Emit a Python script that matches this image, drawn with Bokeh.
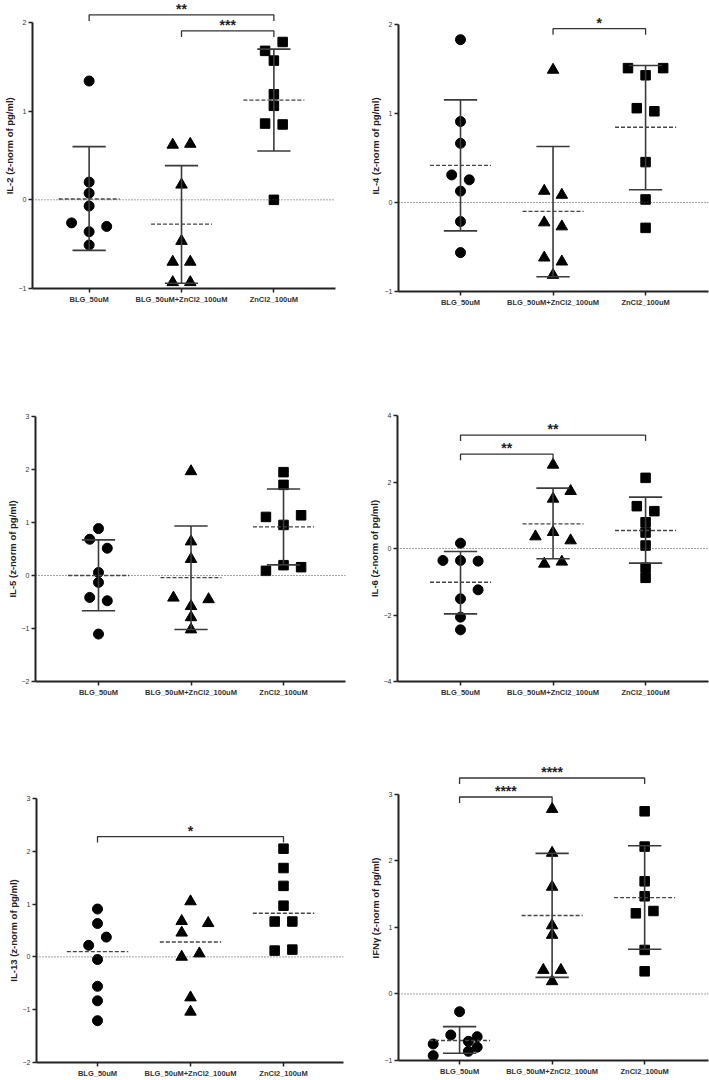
from bokeh.plotting import figure
from bokeh.layouts import column, row
from bokeh.models import Range1d, FixedTicker, Span
from bokeh.core.properties import value
from bokeh.embed import file_html
from bokeh.resources import INLINE

GROUPS = ["BLG_50uM", "BLG_50uM+ZnCl2_100uM", "ZnCl2_100uM"]
MARKERS = ["circle", "triangle", "square"]

# ---------------- IL-2 ----------------
IL2_BLG = [1.34, 0.20, 0.075, -0.07, -0.26, -0.30, -0.36, -0.51]
IL2_MIX = [0.62, 0.63, 0.17, -0.465, -0.70, -0.70, -0.93, -0.93]
IL2_ZN = [1.68, 1.78, 1.57, 1.19, 1.06, 0.86, 0.85, 0.0]
IL2_MEAN = [0.01, -0.274, 1.125]
IL2_LO = [-0.57, -0.94, 0.55]
IL2_HI = [0.60, 0.386, 1.70]
IL2_SIG = [(0, 2, 2.085, "**"), (1, 2, 1.905, "***")]

# ---------------- IL-4 ----------------
IL4_BLG = [1.83, 0.91, 0.665, 0.31, 0.255, 0.128, -0.214, -0.563]
IL4_MIX = [1.49, 0.13, 0.085, -0.225, -0.27, -0.62, -0.665, -0.815]
IL4_ZN = [1.51, 1.51, 1.43, 1.06, 1.025, 0.454, 0.034, -0.285]
IL4_MEAN = [0.417, -0.10, 0.845]
IL4_LO = [-0.319, -0.834, 0.143]
IL4_HI = [1.153, 0.63, 1.54]
IL4_SIG = [(1, 2, 1.953, "*")]

# ---------------- IL-5 ----------------
IL5_BLG = [0.885, 0.684, 0.515, 0.057, -0.13, -0.414, -0.477, -1.105]
IL5_MIX = [1.965, 0.64, 0.31, -0.42, -0.45, -0.58, -0.79, -1.02]
IL5_ZN = [1.95, 1.71, 1.105, 1.136, 0.954, 0.195, 0.157, 0.088]
IL5_MEAN = [0.0, -0.04, 0.917]
IL5_LO = [-0.665, -1.02, 0.20]
IL5_HI = [0.672, 0.935, 1.632]
IL5_SIG = []

# ---------------- IL-6 ----------------
IL6_BLG = [0.16, -0.36, -0.36, -0.38, -1.243, -1.514, -2.065, -2.446]
IL6_MIX = [2.516, 1.724, 1.494, 0.36, 0.49, 0.24, -0.461, -0.40]
IL6_ZN = [2.125, 1.273, 1.123, 0.79, 0.48, 0.09, -0.58, -0.882]
IL6_MEAN = [-1.013, 0.742, 0.541]
IL6_LO = [-1.965, -0.31, -0.441]
IL6_HI = [-0.09, 1.815, 1.544]
IL6_SIG = [(0, 2, 3.41, "**"), (0, 1, 2.837, "**")]

# ---------------- IL-13 ----------------
IL13_BLG = [0.907, 0.632, 0.375, 0.219, -0.05, -0.557, -0.832, -1.208]
IL13_MIX = [1.05, 0.676, 0.638, 0.457, 0.0, 0.063, -0.77, -1.04]
IL13_ZN = [2.05, 1.683, 1.345, 0.97, 0.67, 0.67, 0.119, 0.138]
IL13_MEAN = [0.10, 0.282, 0.826]
IL13_SIG = [(0, 2, 2.278, "*")]

# ---------------- IFN-gamma ----------------
IFNG_BLG = [-0.266, -0.617, -0.642, -0.712, -0.752, -0.80, -0.862, -0.927]
IFNG_MIX = [2.78, 2.12, 1.61, 1.03, 0.887, 0.36, 0.36, 0.19]
IFNG_ZN = [2.747, 2.216, 1.694, 1.469, 1.213, 1.248, 0.662, 0.341]
IFNG_MEAN = [-0.70, 1.18, 1.449]
IFNG_LO = [-0.892, 0.25, 0.672]
IFNG_HI = [-0.49, 2.115, 2.23]
IFNG_SIG = [(0, 2, 3.248, "****"), (0, 1, 2.962, "****")]

# horizontal spreading of overlapping points (layout only, in steps)
IL2_DX = [[0, 0, 0, 0, -2, 2, 0, 0], [-1, 1, 0, 0, -1, 1, -1, 1], [-1, 1, 0, 0, 0, -1, 1, 0]]
IL4_DX = [[0, 0, 0, -1, 1, 0, 0, 0], [0, -1, 1, -1, 1, -1, 1, 0], [-2, 2, 0, -1, 1, 0, 0, 0]]
IL5_DX = [[0, -1, 1, 0, 0, -1, 1, 0], [0, 0, 0, -2, 2, 0, 0, 0], [0, 0, -2, 2, 0, 0, 2, -2]]
IL6_DX = [[0, -2, 0, 2, 2, 0, 0, 0], [0, 2, 0, -2, 0, 2, -1, 1], [0, -1, 1, 0, 0, 0, 0, 0]]
IL13_DX = [[0, 0, 1, -1, 0, 0, 0, 0], [0, -1, 2, -1, -1, 1, 0, 0], [0, 0, 0, 0, -1, 1, -1, 1]]
IFNG_DX = [[0, -1, 2, 1, -3, 2, 1, -3], [0, 0, 0, 0, 0, -1, 1, 0], [0, 0, 0, 0, -1, 1, 0, 0]]

FONT = "Liberation Sans"
JIT = 0.095
MEAN_HW = 0.33
CAP_HW = 0.18


def panel(label, data, dx, mean, lo, hi, sig, yr, bounds, ticks, xr,
          width, height, bl, br, bt, bb):
    p = figure(width=width, height=height, output_backend="svg",
               toolbar_location=None, x_range=Range1d(*xr), y_range=Range1d(*yr),
               min_border_left=bl, min_border_right=br,
               min_border_top=bt, min_border_bottom=bb)
    p.frame_align = False
    p.outline_line_color = None
    p.grid.visible = False
    p.background_fill_color = "white"
    p.border_fill_color = "white"

    p.add_layout(Span(location=0, dimension="width", line_color="#444444",
                      line_width=1, line_dash="1 2"))

    for gi in range(3):
        xs = [gi + d * JIT for d in dx[gi]]
        size = {"circle": 10, "triangle": 11.5, "square": 9.5}[MARKERS[gi]]
        p.scatter(xs, data[gi], marker=MARKERS[gi], size=size,
                  fill_color="black", line_color="black")

    gx = [0, 1, 2]
    if lo is not None:
        p.segment(x0=gx, y0=lo, x1=gx, y1=hi, line_color="#3a3a3a", line_width=1.6)
        p.segment(x0=[g - CAP_HW for g in gx], y0=lo, x1=[g + CAP_HW for g in gx], y1=lo,
                  line_color="#3a3a3a", line_width=1.6)
        p.segment(x0=[g - CAP_HW for g in gx], y0=hi, x1=[g + CAP_HW for g in gx], y1=hi,
                  line_color="#3a3a3a", line_width=1.6)
    p.segment(x0=[g - MEAN_HW for g in gx], y0=mean, x1=[g + MEAN_HW for g in gx], y1=mean,
              line_color="#444444", line_width=1.4, line_dash="4 2")

    # significance brackets
    fh = height - bt - bb
    drop = 6.0 * (yr[1] - yr[0]) / fh
    for (a, b, y, stars) in sig:
        p.multi_line(xs=[[a, a, b, b]], ys=[[y - drop, y, y, y - drop]],
                     line_color="#333333", line_width=1.3)
        p.text(x=[(a + b) / 2], y=[y], text=[stars], text_align="center",
               text_baseline="middle", text_font=value(FONT),
               text_font_size="14px", text_font_style="bold", text_color="#222222",
               y_offset=-6)

    p.xaxis.ticker = FixedTicker(ticks=[0, 1, 2])
    p.xaxis.major_label_overrides = {0: GROUPS[0], 1: GROUPS[1], 2: GROUPS[2]}
    p.xaxis.minor_tick_line_color = None
    p.xaxis.major_tick_out = 4
    p.xaxis.major_tick_in = 0
    p.xaxis.major_label_standoff = 2
    p.xaxis.major_label_text_font = FONT
    p.xaxis.major_label_text_font_size = "7.5px"
    p.xaxis.major_label_text_font_style = "bold"
    p.xaxis.major_label_text_color = "#333333"
    p.xaxis.axis_line_width = 2
    p.xaxis.axis_line_color = "#222222"
    p.xaxis.major_tick_line_width = 1.5
    p.xaxis.major_tick_line_color = "#222222"

    p.yaxis.ticker = FixedTicker(ticks=ticks)
    p.yaxis.bounds = bounds
    p.yaxis.minor_tick_line_color = None
    p.yaxis.major_tick_out = 4
    p.yaxis.major_tick_in = 0
    p.yaxis.major_label_standoff = 2
    p.yaxis.major_label_text_font = FONT
    p.yaxis.major_label_text_font_size = "7px"
    p.yaxis.major_label_text_color = "#333333"
    p.yaxis.axis_line_width = 2
    p.yaxis.axis_line_color = "#222222"
    p.yaxis.major_tick_line_width = 1.5
    p.yaxis.major_tick_line_color = "#222222"
    p.yaxis.axis_label = label
    p.yaxis.axis_label_standoff = 1
    p.yaxis.axis_label_text_font = FONT
    p.yaxis.axis_label_text_font_size = "9.5px"
    p.yaxis.axis_label_text_font_style = "bold"
    p.yaxis.axis_label_text_color = "#222222"
    return p


p1 = panel("IL-2 (z-norm of  pg/ml)", [IL2_BLG, IL2_MIX, IL2_ZN], IL2_DX,
           IL2_MEAN, IL2_LO, IL2_HI, IL2_SIG, (-1, 2.248), (-1, 2), [-1, 0, 1, 2],
           (-0.613, 2.667), 360, 320, 30, 25, 0, 32)
p2 = panel("IL-4 (z-norm of pg/ml)", [IL4_BLG, IL4_MIX, IL4_ZN], IL4_DX,
           IL4_MEAN, IL4_LO, IL4_HI, IL4_SIG, (-1, 2.27), (-1, 2), [-1, 0, 1, 2],
           (-0.67, 2.68), 349, 320, 38, 1, 0, 29)
p3 = panel("IL-5 (z-norm of pg/ml)", [IL5_BLG, IL5_MIX, IL5_ZN], IL5_DX,
           IL5_MEAN, IL5_LO, IL5_HI, IL5_SIG, (-2, 3), (-2, 3), [-2, -1, 0, 1, 2, 3],
           (-0.681, 2.67), 360, 380, 35, 15, 96, 19)
p4 = panel("IL-6 (z-norm of pg/ml)", [IL6_BLG, IL6_MIX, IL6_ZN], IL6_DX,
           IL6_MEAN, IL6_LO, IL6_HI, IL6_SIG, (-4, 4), (-4, 4), [-4, -2, 0, 2, 4],
           (-0.681, 2.68), 349, 380, 37, 1, 95, 19)
p5 = panel("IL-13 (z-norm of pg/ml)", [IL13_BLG, IL13_MIX, IL13_ZN], IL13_DX,
           IL13_MEAN, None, None, IL13_SIG, (-2, 3), (-2, 3), [-2, -1, 0, 1, 2, 3],
           (-0.656, 2.645), 360, 380, 36, 17, 98, 16)
p6 = panel("IFNγ (z-norm of pg/ml)", [IFNG_BLG, IFNG_MIX, IFNG_ZN], IFNG_DX,
           IFNG_MEAN, IFNG_LO, IFNG_HI, IFNG_SIG, (-1, 3.586), (-1, 3), [-1, 0, 1, 2, 3],
           (-0.66, 2.69), 349, 380, 38, 1, 55, 20)

layout = column(row(p1, p2), row(p3, p4), row(p5, p6))
open("out.html", "w").write(file_html(layout, INLINE))
